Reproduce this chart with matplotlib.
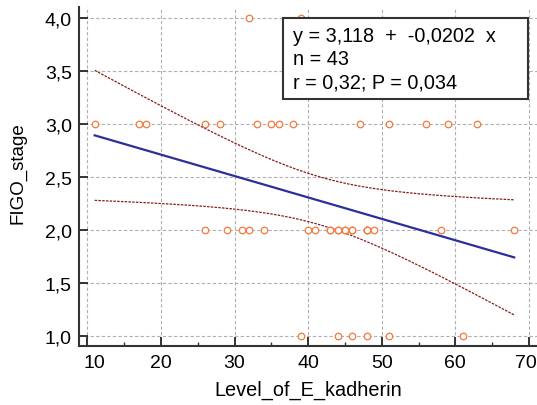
import numpy as np
import matplotlib.pyplot as plt
from matplotlib.ticker import MultipleLocator, FuncFormatter
from matplotlib.patches import Rectangle
from matplotlib.transforms import ScaledTranslation

plt.rcParams['font.family'] = ['Liberation Sans', 'DejaVu Sans']

# E-cadherin level per FIGO stage
ecad_stage1 = [39, 44, 46, 48, 51, 61]
ecad_stage2 = [26, 29, 31, 32, 34, 40, 41, 43, 43, 44, 44, 45, 45, 46, 46,
               48, 48, 48, 49, 58, 68]
ecad_stage3 = [11, 17, 18, 26, 28, 33, 35, 36, 38, 47, 51, 56, 59, 63]
ecad_stage4 = [32, 39]

# regression results
intercept = 3.118
slope = -0.0202
r_value = 0.32
p_value = 0.034
t_crit = 2.0195   # t(0.975, df=41)

x = np.array(ecad_stage1 + ecad_stage2 + ecad_stage3 + ecad_stage4, float)
y = np.array([1]*len(ecad_stage1) + [2]*len(ecad_stage2)
             + [3]*len(ecad_stage3) + [4]*len(ecad_stage4), float)
n = len(x)

# 95% confidence band of the regression line
xs = np.linspace(x.min(), x.max(), 200)
fit = intercept + slope*xs
resid = y - (intercept + slope*x)
s = np.sqrt(np.sum(resid**2) / (n - 2))
sxx = np.sum((x - x.mean())**2)
hw = t_crit * s * np.sqrt(1/n + (xs - x.mean())**2 / sxx)

fig = plt.figure(figsize=(5.37, 4.06), dpi=100)
ax = fig.add_axes([0.1466, 0.146, 0.8534, 0.8336])

ax.set_xlim(8.83, 71.1)
ax.set_ylim(0.911, 4.104)

ax.set_xticks([10, 20, 30, 40, 50, 60, 70])
ax.xaxis.set_minor_locator(MultipleLocator(5))
ax.yaxis.set_major_locator(MultipleLocator(0.5))
ax.yaxis.set_major_formatter(FuncFormatter(lambda v, p: f'{v:.1f}'.replace('.', ',')))

ax.grid(True, which='major', color='#b0b0b0', linestyle=(0, (3, 2)), linewidth=0.8)
ax.set_axisbelow(True)

for side in ['top', 'right']:
    ax.spines[side].set_visible(False)
for side in ['left', 'bottom']:
    ax.spines[side].set_linewidth(1.5)
    ax.spines[side].set_color('#333333')

ax.tick_params(axis='x', which='major', direction='in', length=6.8, width=1.4,
               color='#333333', labelsize=14, pad=6)
ax.tick_params(axis='x', which='minor', direction='in', length=3, width=1.0,
               color='#333333')
ax.tick_params(axis='y', which='major', direction='in', length=6.2, width=1.4,
               color='#333333', labelsize=14, pad=5)

ax.plot(xs, fit + hw, color='#8b1a1a', linestyle=(0, (2, 1)), linewidth=0.9)
ax.plot(xs, fit - hw, color='#8b1a1a', linestyle=(0, (2, 1)), linewidth=0.9)
ax.plot(xs, fit, color='#2b2f9a', linewidth=1.6)

ax.plot(x, y, 'o', markersize=4.7, markerfacecolor='white',
        markeredgecolor='#f5793b', markeredgewidth=0.9, clip_on=False)

ax.set_xlabel('Level_of_E_kadherin', fontsize=14.3)
ax.xaxis.set_label_coords(0.5, -0.1)
ax.set_ylabel('FIGO_stage', fontsize=13.5)
ax.yaxis.set_label_coords(-0.115, 0.512)

# keep the end x labels inside the figure
ticks = ax.xaxis.get_major_ticks()
ticks[0].label1.set_transform(ticks[0].label1.get_transform()
                              + ScaledTranslation(0.075, 0, fig.dpi_scale_trans))
ticks[-1].label1.set_transform(ticks[-1].label1.get_transform()
                               + ScaledTranslation(-0.03, 0, fig.dpi_scale_trans))

# statistics box
ax.add_patch(Rectangle((0.4464, 0.729), 0.5346, 0.2394, transform=ax.transAxes,
                       facecolor='white', edgecolor='#333333', linewidth=1.5,
                       zorder=5))
lines = [f'y = {intercept:.3f}  +  {slope:.4f}  x',
         f'n = {n}',
         f'r = {r_value:.2f}; P = {p_value:.3f}']
for txt, yb in zip(lines, [0.9013, 0.8318, 0.7624]):
    ax.text(0.467, yb, txt.replace('.', ','), transform=ax.transAxes,
            fontsize=14.3, va='baseline', ha='left', zorder=6)

fig.savefig('out.png', dpi=100)
